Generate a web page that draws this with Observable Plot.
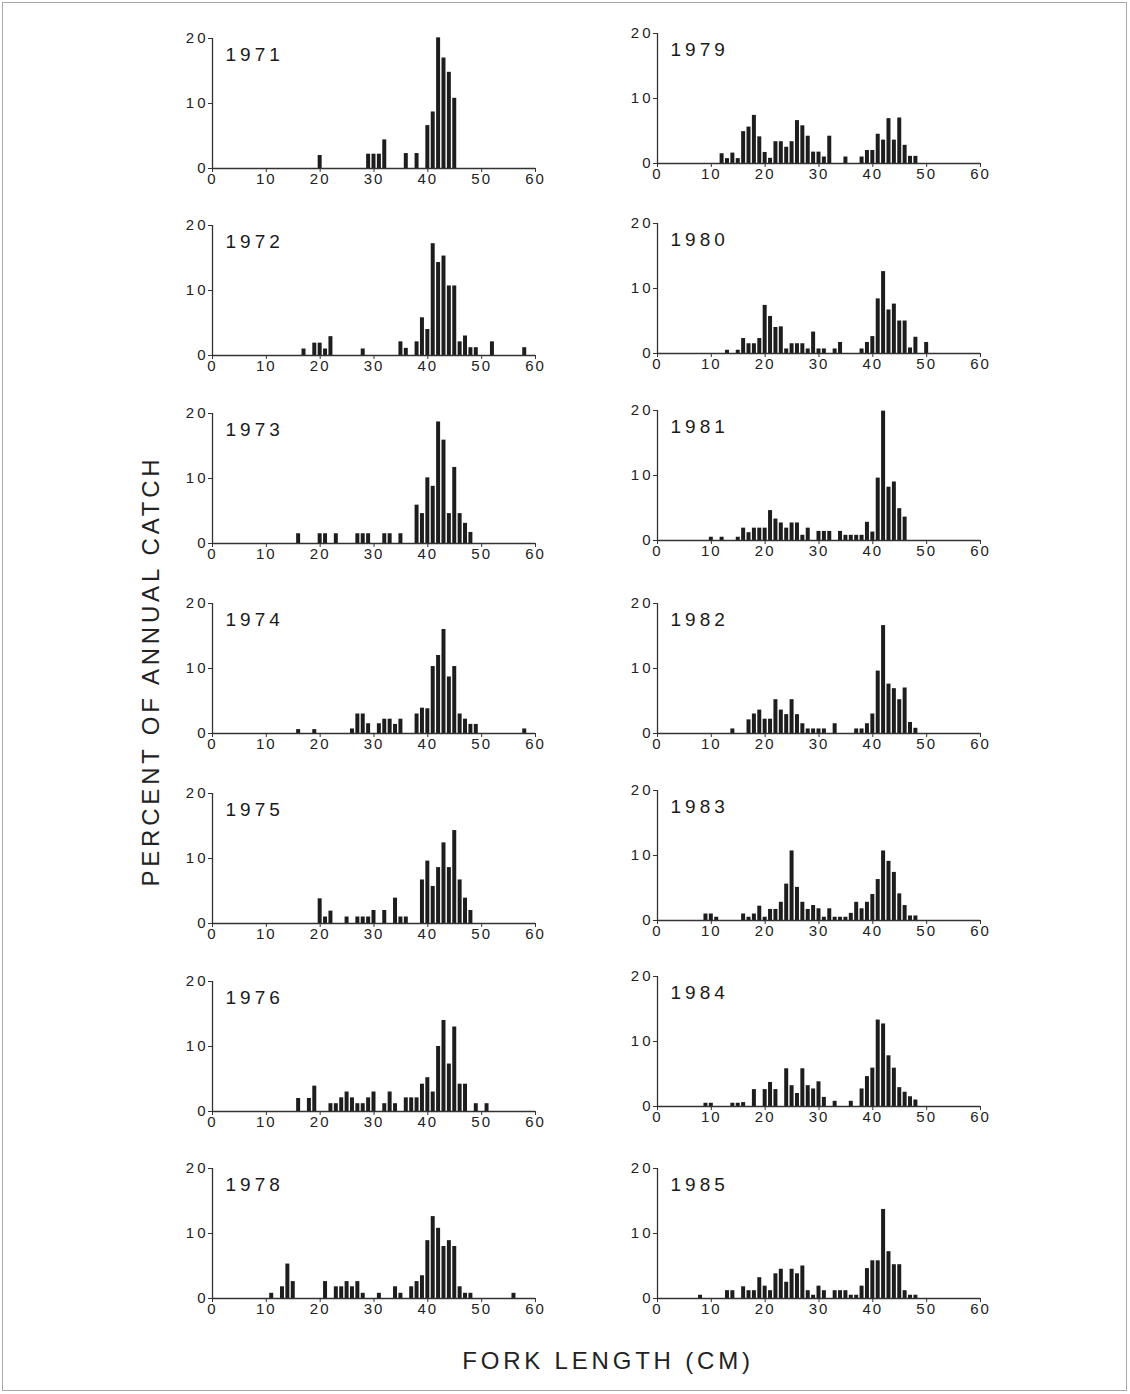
<!DOCTYPE html>
<html>
<head>
<meta charset="utf-8">
<script src="https://cdn.jsdelivr.net/npm/d3@7"></script>
<script src="https://cdn.jsdelivr.net/npm/@observablehq/plot@0.6"></script>
<style>
  html, body { margin: 0; padding: 0; background: #fff; }
  #page { position: relative; width: 1130px; height: 1394px; overflow: hidden; background: #fff;
          font-family: "Liberation Sans", Arial, Helvetica, sans-serif; color: #222; }
  #frame { position: absolute; left: 2px; top: 2px; width: 1123px; height: 1387px; border: 1px solid #a8a8a8; }
  .panel { position: absolute; }
  .panel svg { overflow: visible; }
  .panel g[aria-label="y-axis tick label"] text { letter-spacing: 3px; font-size: 15px; }
  .panel g[aria-label="x-axis tick label"] text { letter-spacing: 2px; font-size: 15px; }
  .panel g[aria-label="text"] text { letter-spacing: 4px; font-size: 19px; }
  .title { position: absolute; white-space: nowrap; font-size: 24px; line-height: 24px; letter-spacing: 3.8px; color: #222; }
</style>
</head>
<body>
<div id="page">
  <div id="frame"></div>
  <div class="title" id="ytitle">PERCENT OF ANNUAL CATCH</div>
  <div class="title" id="xtitle">FORK LENGTH (CM)</div>
</div>
<script>
// ---- Data: [fork length (cm), percent of annual catch] ----
const years = ["1971","1972","1973","1974","1975","1976","1978","1979","1980","1981","1982","1983","1984","1985"];

const c1971 = [[20,2.0],[29,2.2],[30,2.2],[31,2.2],[32,4.4],[36,2.3],[38,2.3],[40,6.6],[41,8.7],[42,20.1],[43,17.0],[44,14.8],[45,10.8]];
const c1972 = [[17,1.0],[19,1.9],[20,1.9],[21,1.0],[22,2.9],[28,1.0],[35,2.1],[36,1.1],[38,2.1],[39,5.8],[40,4.0],[41,17.2],[42,14.3],[43,15.3],[44,10.7],[45,10.7],[46,2.1],[47,3.0],[48,1.2],[49,1.2],[52,2.1],[58,1.2]];
const c1973 = [[16,1.5],[20,1.5],[21,1.5],[23,1.5],[27,1.5],[28,1.5],[29,1.5],[32,1.5],[33,1.5],[35,1.5],[38,5.9],[39,4.6],[40,10.1],[41,8.8],[42,18.7],[43,15.9],[44,4.6],[45,11.7],[46,4.6],[47,3.1],[48,1.7]];
const c1974 = [[16,0.6],[19,0.6],[26,0.7],[27,3.0],[28,3.0],[29,1.5],[31,1.5],[32,2.2],[33,2.2],[34,1.4],[35,2.2],[38,3.0],[39,3.9],[40,3.8],[41,10.3],[42,12.0],[43,16.0],[44,8.7],[45,10.3],[46,3.0],[47,2.2],[48,1.4],[49,1.4],[58,0.7]];
const c1975 = [[20,3.8],[21,1.0],[22,1.9],[25,1.0],[27,1.0],[28,1.0],[29,1.0],[30,2.0],[32,2.0],[34,3.9],[35,1.0],[36,1.0],[39,6.7],[40,9.6],[41,5.7],[42,8.6],[43,12.4],[44,8.6],[45,14.3],[46,6.7],[47,3.9],[48,2.0]];
const c1976 = [[16,2.0],[18,2.0],[19,3.9],[22,1.2],[23,1.2],[24,2.1],[25,3.0],[26,2.1],[27,1.2],[28,1.2],[29,2.1],[30,3.0],[32,1.2],[33,3.0],[34,1.2],[36,2.1],[37,2.1],[38,2.1],[39,4.2],[40,5.2],[41,3.0],[42,10.0],[43,14.0],[44,7.3],[45,13.0],[46,4.2],[47,4.2],[49,1.2],[51,1.2]];
const c1978 = [[11,0.8],[13,1.8],[14,5.3],[15,2.6],[21,2.6],[23,1.8],[24,1.8],[25,2.6],[26,1.8],[27,2.6],[28,0.8],[31,0.8],[34,1.8],[35,0.8],[37,1.8],[38,2.6],[39,3.5],[40,8.9],[41,12.6],[42,10.8],[43,8.0],[44,8.9],[45,8.0],[46,1.8],[47,0.8],[48,0.8],[56,0.8]];
const c1979 = [[12,1.5],[13,0.75],[14,1.6],[15,0.75],[16,4.9],[17,5.6],[18,7.4],[19,4.1],[20,1.7],[21,0.8],[22,3.35],[23,3.35],[24,2.5],[25,3.35],[26,6.6],[27,5.8],[28,4.2],[29,1.75],[30,1.75],[31,1.0],[32,4.2],[35,1.0],[38,1.0],[39,2.0],[40,2.0],[41,4.5],[42,3.6],[43,6.9],[44,3.6],[45,7.0],[46,2.8],[47,1.1],[48,1.1]];
const c1980 = [[13,0.5],[15,0.5],[16,2.3],[17,1.5],[18,1.5],[19,2.3],[20,7.4],[21,5.7],[22,4.0],[23,4.1],[24,0.7],[25,1.5],[26,1.5],[27,1.5],[28,0.7],[29,3.3],[30,0.7],[31,0.7],[33,0.7],[34,1.7],[38,0.7],[39,1.7],[40,2.6],[41,8.4],[42,12.6],[43,6.7],[44,7.6],[45,5.0],[46,5.0],[47,0.85],[48,2.5],[50,1.7]];
const c1981 = [[10,0.5],[12,0.5],[15,0.5],[16,1.9],[17,1.2],[18,1.9],[19,1.9],[20,1.9],[21,4.6],[22,3.3],[23,2.7],[24,1.9],[25,2.7],[26,2.7],[27,0.8],[28,1.9],[30,1.4],[31,1.4],[32,1.4],[34,1.4],[35,0.8],[36,0.8],[37,0.8],[38,0.8],[39,2.8],[40,1.3],[41,9.6],[42,19.9],[43,8.2],[44,9.0],[45,4.9],[46,3.6]];
const c1982 = [[14,0.7],[17,2.1],[18,3.0],[19,3.6],[20,2.2],[21,2.2],[22,5.2],[23,3.6],[24,2.9],[25,5.2],[26,2.9],[27,1.5],[28,0.7],[29,0.7],[30,0.7],[31,0.7],[33,1.5],[37,0.7],[38,0.7],[39,1.5],[40,3.0],[41,9.6],[42,16.6],[43,7.6],[44,6.9],[45,5.2],[46,7.0],[47,1.7],[48,0.8]];
const c1983 = [[9,1.0],[10,1.0],[11,0.5],[16,1.0],[17,0.5],[18,1.0],[19,2.2],[20,0.5],[21,1.7],[22,1.7],[23,2.8],[24,5.6],[25,10.7],[26,5.1],[27,2.8],[28,1.7],[29,2.3],[30,1.8],[31,0.5],[32,1.8],[33,0.5],[34,0.5],[35,0.5],[36,1.1],[37,2.8],[38,1.8],[39,2.8],[40,4.0],[41,6.3],[42,10.7],[43,9.1],[44,7.4],[45,4.1],[46,2.3],[47,0.7],[48,0.7]];
const c1984 = [[9,0.5],[10,0.5],[14,0.5],[15,0.5],[16,0.6],[18,2.6],[20,2.6],[21,3.7],[22,2.6],[24,5.8],[25,3.2],[26,2.0],[27,5.8],[28,3.2],[29,2.7],[30,3.8],[31,1.4],[33,0.8],[36,0.8],[38,2.7],[39,4.6],[40,5.9],[41,13.3],[42,12.7],[43,7.8],[44,5.9],[45,2.9],[46,2.2],[47,1.5],[48,1.0]];
const c1985 = [[8,0.5],[13,1.2],[14,1.2],[16,1.8],[17,1.2],[18,1.2],[19,3.2],[20,1.9],[21,1.2],[22,3.8],[23,4.5],[24,2.5],[25,4.5],[26,3.8],[27,5.0],[28,1.2],[29,0.5],[30,1.9],[31,1.2],[33,1.2],[34,1.2],[35,1.2],[36,0.5],[37,0.5],[38,1.9],[39,4.6],[40,5.8],[41,5.8],[42,13.7],[43,7.2],[44,5.2],[45,5.2],[46,1.2],[47,0.5],[48,0.5]];

const xTicks = [0, 10, 20, 30, 40, 50, 60];
const yTicks = [0, 10, 20];

const catchData = [c1971,c1972,c1973,c1974,c1975,c1976,c1978,c1979,c1980,c1981,c1982,c1983,c1984,c1985];

// ---- Layout (pixel positions of each panel's y-axis and zero baseline) ----
const axisLeft = [211.7, 656.7];
const baseLeftCol  = [167.7, 355, 542.7, 732.7, 922.7, 1110.7, 1298.3];
const baseRightCol = [163.3, 352.7, 540, 732.7, 920, 1106, 1297.7];

const M = {left: 45, right: 20, top: 15, bottom: 30};
const innerW = 323, innerH = 130;
const font = '"Liberation Sans", Arial, Helvetica, sans-serif';
const ink = "#1d1d1d";

const page = document.getElementById("page");

years.forEach((yr, i) => {
  const col = i < 7 ? 0 : 1;
  const row = i % 7;
  const base = col === 0 ? baseLeftCol[row] : baseRightCol[row];
  const data = catchData[i];

  const chart = Plot.plot({
    width: innerW + M.left + M.right,
    height: innerH + M.top + M.bottom,
    marginLeft: M.left, marginRight: M.right, marginTop: M.top, marginBottom: M.bottom,
    style: {fontFamily: font, fontSize: "15px", color: "#222", background: "transparent", overflow: "visible"},
    x: {domain: [0, 60]},
    y: {domain: [0, 20]},
    marks: [
      Plot.rectY(data, {x1: d => d[0] - 0.37, x2: d => d[0] + 0.37, y: d => d[1], fill: ink}),
      Plot.ruleY([0], {stroke: "#333", strokeWidth: 1.3}),
      Plot.ruleX([0], {stroke: "#333", strokeWidth: 1.3}),
      Plot.axisX({ticks: xTicks, tickFormat: d => String(d), tickSize: 4, tickPadding: 1, stroke: "#333", fill: "#222", fontSize: 15, label: null}),
      Plot.axisY({ticks: yTicks, tickFormat: d => String(d), tickSize: 4, tickPadding: 0, stroke: "#333", fill: "#222", fontSize: 15, label: null}),
      Plot.text([yr], {text: d => d, frameAnchor: "top-left", dx: 13, dy: 9, fontSize: 19, fill: "#1a1a1a"})
    ]
  });

  const wrap = document.createElement("div");
  wrap.className = "panel";
  wrap.style.left = (axisLeft[col] - M.left) + "px";
  wrap.style.top = (base - innerH - M.top) + "px";
  wrap.appendChild(chart);
  page.appendChild(wrap);
});

// Titles
const yt = document.getElementById("ytitle");
yt.style.left = "151px"; yt.style.top = "671px";
yt.style.transform = "translate(-50%, -50%) rotate(-90deg)";
const xt = document.getElementById("xtitle");
xt.style.left = "608px"; xt.style.top = "1361px";
xt.style.transform = "translate(-50%, -50%)";
</script>
</body>
</html>
